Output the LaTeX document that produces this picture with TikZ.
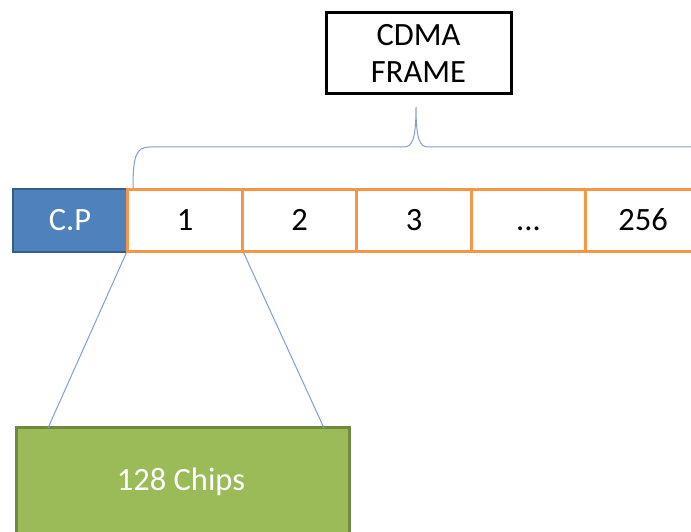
\documentclass[tikz,border=0pt]{standalone}
\usepackage{fontspec}
\setmainfont{Carlito}
\definecolor{cpblue}{HTML}{4F81BD}
\definecolor{cpedge}{HTML}{385D8A}
\definecolor{slotorange}{HTML}{F79646}
\definecolor{chipgreen}{HTML}{9BBB59}
\definecolor{chipedge}{HTML}{71893F}
\definecolor{linkblue}{HTML}{7F9FCF}
\begin{document}
\begin{tikzpicture}[x=1pt,y=-1pt,
  lbl/.style={font=\fontsize{32.5}{38}\selectfont},
  cpbox/.style={draw=cpedge,fill=cpblue,line width=2.5pt,minimum width=114pt,minimum height=63pt,
    text=white,lbl,inner sep=0pt,text height=20.5pt,text depth=0pt},
  slot/.style={draw=slotorange,fill=white,line width=3pt,minimum width=114.5pt,minimum height=62pt,
    lbl,inner sep=0pt,text height=20.5pt,text depth=0pt},
  framebox/.style={draw=black,line width=3pt,minimum width=185pt,minimum height=81pt,
    lbl,align=center,inner sep=0pt},
  chipbox/.style={draw=chipedge,fill=chipgreen,line width=3pt,minimum width=333pt,minimum height=140pt,
    text=white,lbl,inner sep=0pt},
  link/.style={draw=linkblue,line width=1pt}]
\useasboundingbox (0,0) rectangle (691,532);

% cyclic prefix and the chip slots of one frame
\node[cpbox] (cp) at (70,220.5) {C.P};
\node[slot] (s1) at (185,220.5) {1};
\node[slot] (s2) at (299.5,220.5) {2};
\node[slot] (s3) at (414,220.5) {3};
\node[slot] (s4) at (528.5,220.5) {.\kern0pt.\kern0pt.};
\node[slot] (s5) at (643,220.5) {256};

% frame label and its brace
\node[framebox] (frame) at (418.5,53.5) {CDMA\\[-1pt]FRAME};
\coordinate (bl) at (133,188);
\coordinate (tip) at (416,107);
\coordinate (br) at (700,147);
\draw[link] (bl) .. controls (133,156) and (136,147) .. (150,147) -- (404,147)
  .. controls (412,147) and (416,140) .. (tip)
  .. controls (416,140) and (420,147) .. (428,147) -- (br);

% expansion of slot 1 into its chips
\node[chipbox] (chips) at (182.5,497) {};
\node[lbl,text=white] (chiptxt) at (181,482) {128 Chips};
\coordinate (cl) at (48,428);
\coordinate (cr) at (324,428);
\draw[link] (s1.south west) -- (cl);
\draw[link] (s1.south east) -- (cr);
\end{tikzpicture}
\end{document}
